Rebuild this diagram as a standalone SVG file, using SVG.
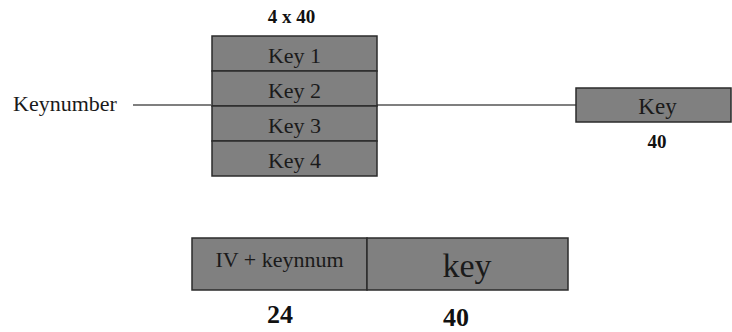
<svg xmlns="http://www.w3.org/2000/svg" width="732" height="332" viewBox="0 0 732 332" font-family="'Liberation Serif', 'Times New Roman', 'DejaVu Serif', serif">
  <style>
    .cell { fill: #808080; stroke: #2b2b2b; stroke-width: 1.5; }
    .wire { stroke: #000; stroke-width: 1.2; fill: none; }
    text { font-family: 'Liberation Serif', 'Times New Roman', 'DejaVu Serif', serif; fill: #1a1a1a; }
    .lbl { text-anchor: middle; }
    .size { font-weight: bold; fill: #111; text-anchor: middle; }
  </style>
  <rect width="732" height="332" fill="#fff"/>

  <!-- connectors -->
  <g id="connectors">
    <line class="wire" x1="133" y1="105" x2="211" y2="105"/>
    <line class="wire" x1="377" y1="105" x2="576" y2="105"/>
  </g>

  <!-- input label -->
  <g id="keynumber">
    <text x="13" y="111" font-size="22">Keynumber</text>
  </g>

  <!-- key table: 4 entries of 40 -->
  <g id="key-table">
    <text class="size" x="291.5" y="23" font-size="19">4 x 40</text>
    <rect class="cell" x="212" y="36" width="165" height="35"/>
    <rect class="cell" x="212" y="71" width="165" height="35"/>
    <rect class="cell" x="212" y="106" width="165" height="35"/>
    <rect class="cell" x="212" y="141" width="165" height="35"/>
    <text class="lbl" x="294.5" y="62.5" font-size="22">Key 1</text>
    <text class="lbl" x="294.5" y="97.5" font-size="22">Key 2</text>
    <text class="lbl" x="294.5" y="132.5" font-size="22">Key 3</text>
    <text class="lbl" x="294.5" y="167.5" font-size="22">Key 4</text>
  </g>

  <!-- selected key -->
  <g id="selected-key">
    <rect class="cell" x="576" y="88" width="155" height="34"/>
    <text class="lbl" x="657.5" y="114" font-size="23">Key</text>
    <text class="size" x="657" y="148" font-size="19">40</text>
  </g>

  <!-- output record -->
  <g id="record">
    <rect class="cell" x="192" y="238" width="175" height="52"/>
    <rect class="cell" x="367" y="238" width="201" height="52"/>
    <text class="lbl" x="279.5" y="267" font-size="22">IV + keynnum</text>
    <text class="lbl" x="467" y="277" font-size="34">key</text>
    <text class="size" x="280" y="323" font-size="26">24</text>
    <text class="size" x="456" y="326" font-size="26">40</text>
  </g>
</svg>
